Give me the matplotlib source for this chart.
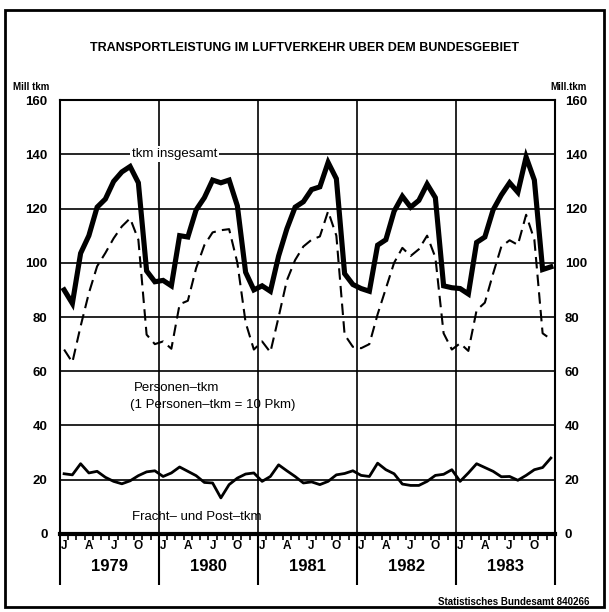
import numpy as np
import matplotlib
matplotlib.use('Agg')
import matplotlib.pyplot as plt
from matplotlib.patches import Rectangle

FONT = ['Liberation Sans', 'DejaVu Sans']
plt.rcParams['font.family'] = FONT

# monthly values, Jan 1979 .. Dec 1983 (Mill. tkm)
years = ['1979', '1980', '1981', '1982', '1983']
month_labels = ['J', 'A', 'J', 'O']

tkm_total = [
    90, 85, 103.5, 110, 120.5, 123.5, 130, 133.5, 135.5, 129.5, 97, 93,
    93.5, 91.5, 110, 109.5, 119.5, 124, 130.5, 129.5, 130.5, 121, 96.5, 90,
    91.5, 89.5, 102.5, 112.5, 120.5, 122.5, 127, 128, 137, 131, 96, 92,
    90.5, 89.5, 106.5, 108.5, 119, 124.5, 120.5, 123, 129, 124, 91.5, 90.8,
    90.5, 88.5, 107.5, 109.5, 119.5, 125, 129.5, 126, 139, 130.5, 97.5, 98.5,
]
personen_tkm = [
    68, 63.3, 76.6, 88.8, 98.7, 103.6, 109, 113.4, 116.4, 108.5, 73.5, 70,
    71, 68.3, 84.7, 86, 98, 106.5, 111.2, 112, 112.4, 100, 78, 68,
    71, 67, 80, 93.5, 101, 106, 108.5, 109.7, 119, 110, 73.5, 69,
    68.5, 70, 81, 90.5, 100, 105.5, 102.5, 105, 110, 102, 74, 68,
    70.3, 67.5, 82.5, 85.3, 96, 106, 108.3, 106.6, 117.7, 108.5, 74, 71.8,
]
fracht_tkm = [
    22.2, 21.8, 25.9, 22.5, 23.1, 20.9, 19.4, 18.5, 19.6, 21.5, 22.9, 23.3,
    21.2, 22.5, 24.7, 23.1, 21.5, 19.0, 18.8, 13.3, 18.2, 20.6, 22.1, 22.5,
    19.4, 21.2, 25.5, 23.3, 21.2, 18.8, 19.2, 18.2, 19.4, 21.8, 22.3, 23.3,
    21.6, 21.2, 26.1, 23.7, 22.2, 18.4, 17.9, 17.9, 19.4, 21.6, 22.0, 23.7,
    19.4, 22.5, 25.9, 24.5, 23.1, 21.1, 21.2, 19.8, 21.6, 23.7, 24.5, 28.0,
]

x = np.arange(len(tkm_total)) + 0.5

fig = plt.figure(figsize=(6.09, 6.12), dpi=100)
fig.patches.append(Rectangle((0.009, 0.008), 0.982, 0.975, transform=fig.transFigure,
                             fill=False, lw=2, ec='black'))

ax = fig.add_axes([0.0985, 0.1275, 0.8128, 0.709])
ax.set_xlim(0, 60)
ax.set_ylim(0, 160)

# grid
for yv in range(20, 160, 20):
    ax.axhline(yv, color='black', lw=1.2, zorder=1)
for k in range(1, 5):
    ax.axvline(12 * k, color='black', lw=1.2, zorder=1)
for s in ax.spines.values():
    s.set_linewidth(1.5)
ax.spines['bottom'].set_linewidth(3)

ax.plot(x, tkm_total, color='black', lw=3.7, solid_joinstyle='miter', zorder=3)
ax.plot(x, personen_tkm, color='black', lw=1.5, dashes=(5.5, 3), zorder=3)
ax.plot(x, fracht_tkm, color='black', lw=2, zorder=3)

# y ticks, left axis and a twin for the right side
yt = list(range(0, 161, 20))
ax.set_yticks(yt)
ax.set_yticklabels([str(v) for v in yt], fontweight='bold')
ax.tick_params(axis='y', length=0, pad=9, labelsize=9.5)

ax2 = ax.twinx()
ax2.set_ylim(0, 160)
ax2.set_yticks(yt)
ax2.set_yticklabels([str(v) for v in yt], fontweight='bold')
ax2.tick_params(axis='y', length=0, pad=7, labelsize=9.5)
for s in ax2.spines.values():
    s.set_visible(False)

# x: month ticks below axis
ax.set_xticks(np.arange(0, 61, 1))
ax.set_xticklabels([])
ax.tick_params(axis='x', direction='out', length=4, width=1.2)
ax.vlines(np.arange(0, 61, 12), -0.118 * 160, 0, color='black', lw=1.5, clip_on=False)

for yi, yr in enumerate(years):
    for mi, m in zip([0, 3, 6, 9], month_labels):
        ax.text(yi * 12 + mi + 0.5, -4.5, m, ha='center', va='center',
                fontsize=8.5, fontweight='bold')
    ax.text(yi * 12 + 6, -12, yr, ha='center', va='center', fontsize=12, fontweight='bold')

# inline labels
ax.text(13.9, 140, 'tkm insgesamt', ha='center', va='center', fontsize=9.5,
        bbox=dict(fc='white', ec='none', pad=1.5), zorder=2)
ax.text(8.9, 53.7, 'Personen\u2013tkm', ha='left', va='center', fontsize=9.5)
ax.text(8.5, 47.4, '(1 Personen\u2013tkm = 10 Pkm)', ha='left', va='center', fontsize=9.5)
ax.text(16.6, 6.3, 'Fracht\u2013 und Post\u2013tkm', ha='center', va='center', fontsize=9.5)

fig.text(0.5, 0.922, 'TRANSPORTLEISTUNG IM LUFTVERKEHR UBER DEM BUNDESGEBIET',
         ha='center', va='center', fontsize=9, fontweight='bold')
fig.text(0.051, 0.858, 'Mill tkm', ha='center', va='center', fontsize=7, fontweight='bold')
fig.text(0.934, 0.858, 'Mill.tkm', ha='center', va='center', fontsize=7, fontweight='bold')
fig.text(0.968, 0.016, 'Statistisches Bundesamt 840266', ha='right', va='center',
         fontsize=7, fontweight='bold')

fig.savefig('out.png', dpi=100)
